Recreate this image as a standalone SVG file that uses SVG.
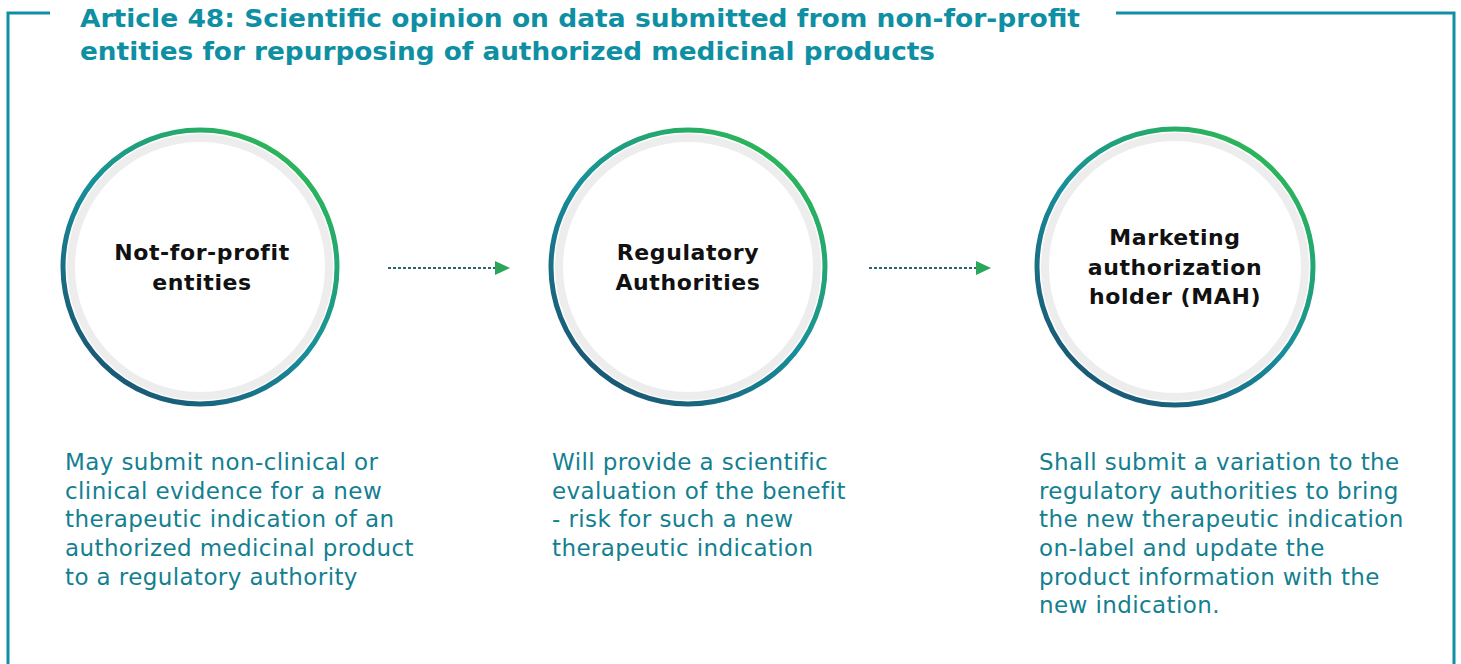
<svg xmlns="http://www.w3.org/2000/svg" width="1461" height="664" viewBox="0 0 1461 664">
<style>
.title{font-family:"DejaVu Sans","Liberation Sans",sans-serif;font-weight:700;font-size:25px;fill:#0e8fa3}
.node{font-family:"DejaVu Sans","Liberation Sans",sans-serif;font-weight:700;font-size:22px;letter-spacing:0.6px;fill:#111;text-anchor:middle}
.desc{font-family:"DejaVu Sans","Liberation Sans",sans-serif;font-size:23px;letter-spacing:0.4px;fill:#137f91}
.frame{fill:none;stroke:#0e8fa3;stroke-width:3}
.ring{fill:#fff;stroke:url(#rg);stroke-width:5}
.shadow{fill:none;stroke:#ededed;stroke-width:8}
.conn{stroke:#2c6272;stroke-width:2;stroke-dasharray:3 2;fill:none}
</style>
<defs>
<linearGradient id="rg" x1="0.8" y1="0.1" x2="0.2" y2="0.9">
<stop offset="0" stop-color="#2bb45a"/>
<stop offset="0.5" stop-color="#178f9c"/>
<stop offset="1" stop-color="#1a5a76"/>
</linearGradient>
<marker id="ah" markerWidth="16" markerHeight="16" refX="0" refY="8" markerUnits="userSpaceOnUse" orient="auto">
<path d="M0,1 L15,8 L0,15 Z" fill="#2aa65a"/>
</marker>
</defs>
<rect width="1461" height="664" fill="#fff"/>
<g id="frame">
<path class="frame" d="M50,13 H8 V664"/>
<path class="frame" d="M1116,13 H1454 V664"/>
</g>
<g id="title">
<text class="title" x="80" y="27" textLength="1000" lengthAdjust="spacingAndGlyphs">Article 48: Scientific opinion on data submitted from non-for-profit</text>
<text class="title" x="80" y="60" textLength="855" lengthAdjust="spacingAndGlyphs">entities for repurposing of authorized medicinal products</text>
</g>
<g id="connectors">
<line class="conn" x1="388" y1="268" x2="495" y2="268" marker-end="url(#ah)"/>
<line class="conn" x1="869" y1="268" x2="976" y2="268" marker-end="url(#ah)"/>
</g>
<g id="node1">
<circle class="ring" cx="200" cy="267" r="137"/>
<circle class="shadow" cx="200" cy="267" r="129"/>
<text class="node" x="202" y="260">Not-for-profit</text>
<text class="node" x="202" y="290">entities</text>
<text class="desc" x="65" y="470">May submit non-clinical or</text>
<text class="desc" x="65" y="499">clinical evidence for a new</text>
<text class="desc" x="65" y="527">therapeutic indication of an</text>
<text class="desc" x="65" y="556">authorized medicinal product</text>
<text class="desc" x="65" y="585">to a regulatory authority</text>
</g>
<g id="node2">
<circle class="ring" cx="688" cy="267" r="137"/>
<circle class="shadow" cx="688" cy="267" r="129"/>
<text class="node" x="688" y="260">Regulatory</text>
<text class="node" x="688" y="290">Authorities</text>
<text class="desc" x="552" y="470">Will provide a scientific</text>
<text class="desc" x="552" y="499">evaluation of the benefit</text>
<text class="desc" x="552" y="527">- risk for such a new</text>
<text class="desc" x="552" y="556">therapeutic indication</text>
</g>
<g id="node3">
<circle class="ring" cx="1175" cy="267" r="138"/>
<circle class="shadow" cx="1175" cy="267" r="130"/>
<text class="node" x="1175" y="245">Marketing</text>
<text class="node" x="1175" y="275">authorization</text>
<text class="node" x="1175" y="304">holder (MAH)</text>
<text class="desc" x="1039" y="470">Shall submit a variation to the</text>
<text class="desc" x="1039" y="499">regulatory authorities to bring</text>
<text class="desc" x="1039" y="527">the new therapeutic indication</text>
<text class="desc" x="1039" y="556">on-label and update the</text>
<text class="desc" x="1039" y="585">product information with the</text>
<text class="desc" x="1039" y="613">new indication.</text>
</g>
</svg>
